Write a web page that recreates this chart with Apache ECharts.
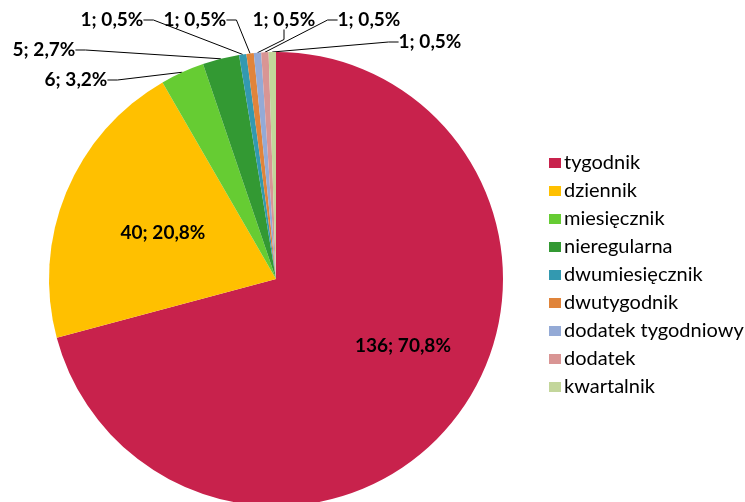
<!DOCTYPE html>
<html>
<head>
<meta charset="utf-8">
<script src="https://cdn.jsdelivr.net/npm/echarts@6/dist/echarts.min.js"></script>
<style>
  html, body { margin: 0; padding: 0; background: #fff; }
  #main { width: 745px; height: 502px; }
</style>
</head>
<body>
<div id="main"></div>
<script>
// dane z wykresu
const categories = ['tygodnik', 'dziennik', 'miesięcznik', 'nieregularna', 'dwumiesięcznik',
  'dwutygodnik', 'dodatek tygodniowy', 'dodatek', 'kwartalnik']
const counts = [136, 40, 6, 5, 1, 1, 1, 1, 1]
const percents = ['70,8', '20,8', '3,2', '2,7', '0,5', '0,5', '0,5', '0,5', '0,5']
const colors = ['#C8224C', '#FFC000', '#66CC33', '#339933', '#3399B0',
  '#E0843A', '#94AAD6', '#D99594', '#C3D69B']

const CX = 276, CY = 279, R = 227
// srodki etykiet [x, y]
const labelCenters = {
  0: [403, 346], 1: [163, 233],
  2: [76, 80], 3: [44, 50], 4: [112, 20], 5: [195, 20],
  6: [284, 20], 7: [369, 20], 8: [430, 42]
}

const chartBox = echarts.init(document.getElementById('main'))
const seriesData = categories.map((name, i) => ({
  name: name,
  value: counts[i],
  itemStyle: { color: colors[i] },
  label: { position: i < 2 ? 'inside' : 'outside' },
  labelLine: { show: i >= 2 }
}))

const option = {
  animation: false,
  legend: {
    orient: 'vertical',
    left: 544,
    top: 148,
    itemWidth: 12,
    itemHeight: 10,
    itemGap: 8,
    icon: 'rect',
    textStyle: { color: '#000', fontSize: 20, fontFamily: 'Lato', padding: [0, 0, 0, -2] },
    data: categories
  },
  series: [
    {
      type: 'pie',
      radius: R,
      center: [CX, CY],
      startAngle: 90,
      clockwise: true,
      avoidLabelOverlap: false,
      itemStyle: { borderWidth: 0 },
      label: {
        show: true,
        color: '#000',
        fontSize: 19,
        fontWeight: 'bold',
        fontFamily: 'Lato',
        formatter: p => p.value + '; ' + percents[p.dataIndex] + '%'
      },
      labelLine: {
        show: true,
        length: 10,
        length2: 10,
        lineStyle: { color: '#000', width: 1 }
      },
      labelLayout: function (params) {
        const c = labelCenters[params.dataIndex]
        return { x: c[0], y: c[1], align: 'center', verticalAlign: 'middle' }
      },
      data: seriesData
    }
  ]
}
chartBox.setOption(option)
</script>
</body>
</html>
